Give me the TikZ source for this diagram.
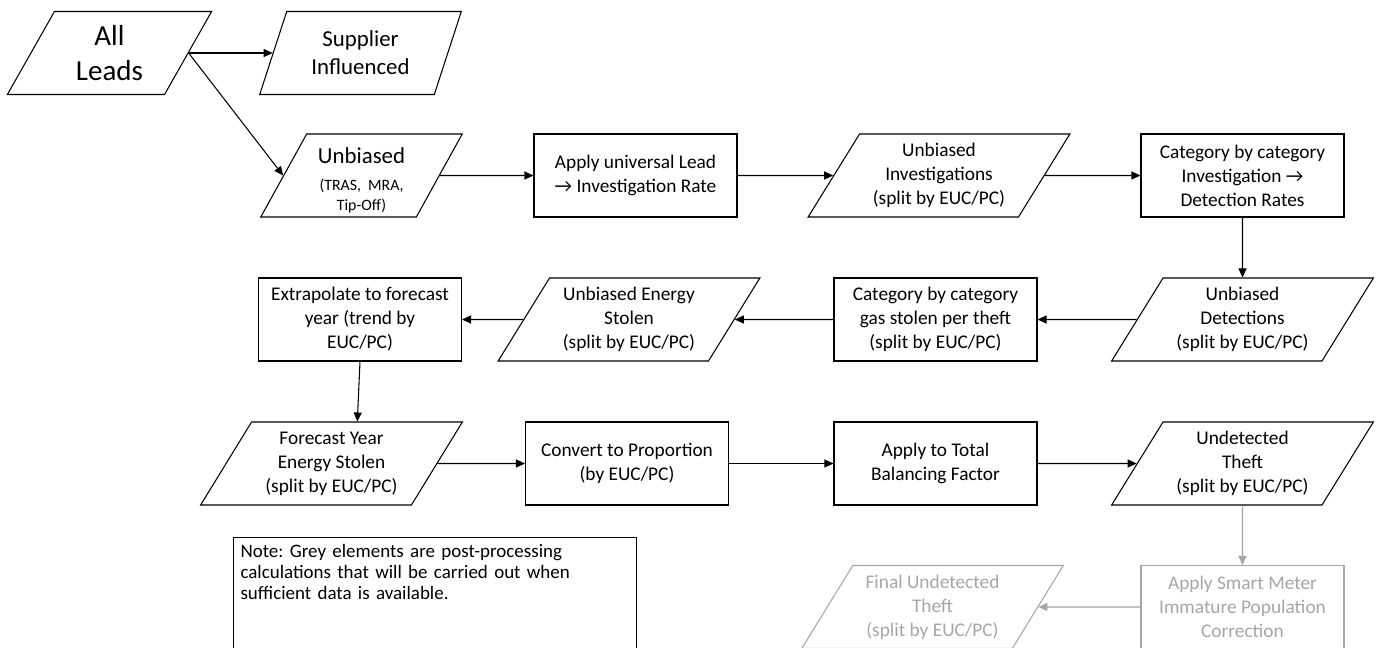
\documentclass[tikz,border=0pt]{standalone}
\usepackage{fontspec}
\setmainfont{Carlito}
\frenchspacing
\usetikzlibrary{shapes.geometric, arrows.meta, calc}
\definecolor{Grey60}{RGB}{166, 166, 166}
\tikzstyle{process} = [rectangle, draw, minimum width=40.6mm, minimum height=16.6mm, inner sep=0.5mm, align=center, line width=0.6pt, font=\fontsize{11}{13.7}\selectfont]
\tikzstyle{data} = [trapezium, trapezium left angle=57.5, trapezium right angle=122.5, trapezium stretches=true, draw, minimum width=52.4mm, minimum height=16.6mm, inner sep=0.5mm, align=center, line width=0.6pt, font=\fontsize{11}{13.7}\selectfont]
\tikzstyle{smalldata} = [data, trapezium left angle=64, trapezium right angle=116, minimum width=40.6mm, font=\fontsize{13}{16}\selectfont]
\tikzstyle{greyed} = [draw=Grey60, text=Grey60]
\tikzstyle{notebox} = [rectangle, draw, anchor=north west, text width=77.8mm, inner sep=1.4mm, text depth=20mm, align=left, line width=0.6pt, font=\fontsize{10.8}{11.8}\selectfont]
\tikzstyle{arrow} = [-{Triangle[length=1.8mm, width=1.6mm]}, line width=0.6pt]

\begin{document}
\begin{tikzpicture}[x=0.2mm, y=-0.2mm]
\useasboundingbox (0,0) rectangle (1381,647);

% Lead split
\node (leads) [smalldata, trapezium left angle=63, trapezium right angle=117, minimum width=41mm, font=\fontsize{16.5}{20}\selectfont] at (109.5,53) {All\\Leads};
\node (supplier) [smalldata, trapezium left angle=69, trapezium right angle=111] at (360.5,53) {Supplier\\Influenced};
\node (unbiased) [smalldata, font=\fontsize{9}{11}\selectfont] at (361.5,175.5) {\rule{0pt}{5mm}{\fontsize{13}{16}\selectfont Unbiased}\\[4.5pt](TRAS,\ \ MRA,\\Tip-Off)};

% Top row
\node (rate) [process] at (635.5,175.5) {Apply universal Lead\\→ Investigation Rate};
\node (invest) [data] at (939,175.5) {Unbiased\\Investigations\\(split by EUC/PC)};
\node (detrate) [process] at (1242.5,175.5) {Category by category\\Investigation →\\Detection Rates};

% Middle row (right to left)
\node (detect) [data] at (1242.5,319.5) {Unbiased\\Detections\\(split by EUC/PC)};
\node (gas) [process] at (935.5,319.5) {Category by category\\gas stolen per theft\\(split by EUC/PC)};
\node (energy) [data] at (629,319.5) {Unbiased Energy\\Stolen\\(split by EUC/PC)};
\node (extrap) [process] at (360,319.5) {Extrapolate to forecast\\year (trend by\\EUC/PC)};

% Bottom row
\node (forecast) [data] at (331.5,463.5) {Forecast Year\\Energy Stolen\\(split by EUC/PC)};
\node (prop) [process] at (627,463.5) {Convert to Proportion\\(by EUC/PC)};
\node (balance) [process] at (935.5,463.5) {Apply to Total\\Balancing Factor};
\node (undet) [data] at (1242.5,463.5) {Undetected\\Theft\\(split by EUC/PC)};

% Post-processing (grey)
\node (smart) [process, greyed] at (1242.5,607) {Apply Smart Meter\\Immature Population\\Correction};
\node (final) [data, greyed] at (932.5,607) {Final Undetected\\Theft\\(split by EUC/PC)};

% Note
\node (note) [notebox] at (233,537) {Note: Grey elements are post-processing\\calculations that will be carried out when\\sufficient data is available.};

% Arrows
\draw [arrow] (leads.right side) -- (supplier.left side);
\draw [arrow] (leads.right side) -- (unbiased.left side);
\draw [arrow] (unbiased) -- (rate);
\draw [arrow] (rate) -- (invest);
\draw [arrow] (invest) -- (detrate);
\draw [arrow] (detrate) -- (detect);
\draw [arrow] (detect) -- (gas);
\draw [arrow] (gas) -- (energy);
\draw [arrow] (energy) -- (extrap);
\draw [arrow] (extrap.south) -- ($(forecast.top left corner)!0.5!(forecast.top right corner)$);
\draw [arrow] (forecast) -- (prop);
\draw [arrow] (prop) -- (balance);
\draw [arrow] (balance) -- (undet);
\draw [arrow, Grey60] (undet) -- (smart);
\draw [arrow, Grey60] (smart) -- (final);

\end{tikzpicture}
\end{document}
